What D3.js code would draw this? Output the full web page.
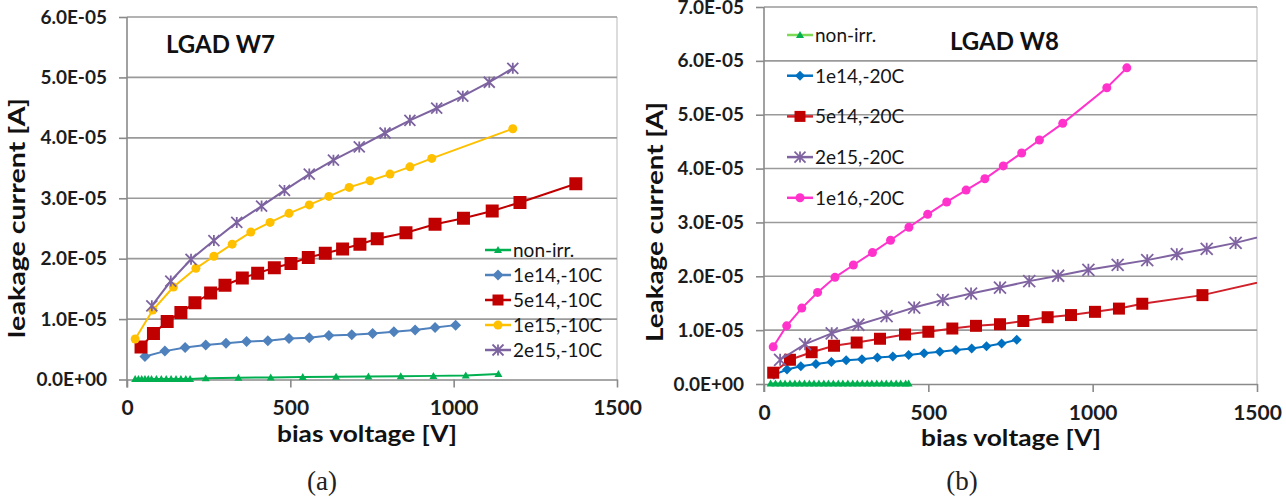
<!DOCTYPE html>
<html>
<head>
<meta charset="utf-8">
<script src="https://cdn.jsdelivr.net/npm/d3@7"></script>
<style>
  html, body { margin: 0; padding: 0; background: #fff; }
  svg { display: block; }
  text { font-family: Lato, "Open Sans", sans-serif; }
</style>
</head>
<body>
<svg id="chart" width="1286" height="502"></svg>
<script>
// ---------- data: leakage current [A] vs bias voltage [V] ----------
// LGAD W7, measured at -10C
const w7NonIrr = [[25,1e-7],[35,1e-7],[45,1e-7],[55,1e-7],[65,1e-7],[75,1e-7],[90,1e-7],[105,1e-7],[120,1e-7],[135,1e-7],[150,1e-7],[165,1e-7],[180,1e-7],[193,1e-7],
  [241,2e-7],[341,3e-7],[440,3.5e-7],[538,4e-7],[640,4.5e-7],[739,5e-7],[838,5.5e-7],[938,6e-7],[1037,6.5e-7],[1137,9e-7]];
const w7_1e14 = [[55,0.38e-5],[116,0.47e-5],[178,0.53e-5],[241,0.57e-5],[303,0.60e-5],[366,0.63e-5],[431,0.64e-5],[496,0.68e-5],[558,0.69e-5],[618,0.73e-5],
  [688,0.74e-5],[752,0.76e-5],[817,0.79e-5],[882,0.82e-5],[943,0.86e-5],[1006,0.90e-5]];
const w7_5e14 = [[43,0.54e-5],[81,0.76e-5],[123,0.96e-5],[165,1.11e-5],[208,1.27e-5],[256,1.43e-5],[300,1.56e-5],[353,1.68e-5],[400,1.76e-5],[451,1.85e-5],
  [502,1.92e-5],[555,2.02e-5],[607,2.09e-5],[660,2.16e-5],[713,2.24e-5],[766,2.33e-5],[854,2.43e-5],[943,2.57e-5],[1030,2.67e-5],[1118,2.79e-5],[1203,2.93e-5],[1374,3.24e-5]];
const w7_1e15 = [[25,0.67e-5],[79,1.15e-5],[142,1.53e-5],[211,1.84e-5],[266,2.04e-5],[322,2.24e-5],[379,2.44e-5],[438,2.60e-5],[496,2.75e-5],[558,2.89e-5],
  [618,3.03e-5],[680,3.18e-5],[744,3.29e-5],[805,3.40e-5],[866,3.52e-5],[933,3.66e-5],[1181,4.15e-5]];
const w7_2e15 = [[76,1.22e-5],[134,1.63e-5],[196,1.99e-5],[266,2.30e-5],[336,2.60e-5],[412,2.87e-5],[482,3.13e-5],[558,3.40e-5],[632,3.63e-5],[711,3.85e-5],
  [790,4.08e-5],[866,4.29e-5],[948,4.49e-5],[1028,4.69e-5],[1109,4.92e-5],[1181,5.15e-5]];

// LGAD W8, measured at -20C
const w8NonIrr = [[20,1e-7],[35,1e-7],[50,1e-7],[64,1e-7],[79,1e-7],[94,1e-7],[108,1e-7],[123,1e-7],[138,1e-7],[152,1e-7],[167,1e-7],[182,1e-7],[196,1e-7],[211,1e-7],
  [226,1e-7],[240,1e-7],[255,1e-7],[270,1e-7],[284,1e-7],[299,1e-7],[314,1e-7],[328,1e-7],[343,1e-7],[358,1e-7],[372,1e-7],[387,1e-7],[402,1e-7],[416,1e-7],[431,1e-7],[440,1e-7]];
const w8_1e14 = [[30,0.17e-5],[70,0.27e-5],[112,0.33e-5],[158,0.37e-5],[205,0.41e-5],[250,0.44e-5],[298,0.46e-5],[345,0.49e-5],[392,0.51e-5],[440,0.54e-5],
  [487,0.57e-5],[535,0.60e-5],[584,0.63e-5],[632,0.66e-5],[677,0.70e-5],[723,0.75e-5],[769,0.82e-5]];
const w8_5e14 = [[28,0.21e-5],[79,0.45e-5],[145,0.59e-5],[213,0.71e-5],[282,0.77e-5],[353,0.84e-5],[429,0.92e-5],[500,0.97e-5],[573,1.03e-5],[645,1.08e-5],
  [718,1.11e-5],[789,1.17e-5],[863,1.24e-5],[934,1.28e-5],[1007,1.34e-5],[1080,1.40e-5],[1151,1.49e-5],[1334,1.65e-5],[1530,1.92e-5]];
const w8_2e15 = [[49,0.45e-5],[125,0.74e-5],[206,0.94e-5],[287,1.10e-5],[373,1.26e-5],[457,1.42e-5],[544,1.56e-5],[630,1.68e-5],[718,1.79e-5],[807,1.91e-5],
  [895,2.01e-5],[987,2.12e-5],[1076,2.21e-5],[1166,2.30e-5],[1256,2.41e-5],[1347,2.51e-5],[1435,2.62e-5],[1525,2.76e-5]];
const w8_1e16 = [[28,0.69e-5],[69,1.08e-5],[115,1.41e-5],[163,1.70e-5],[216,1.98e-5],[272,2.21e-5],[330,2.44e-5],[385,2.67e-5],[441,2.91e-5],[498,3.15e-5],
  [556,3.38e-5],[615,3.60e-5],[672,3.81e-5],[728,4.05e-5],[784,4.29e-5],[838,4.53e-5],[909,4.84e-5],[1043,5.50e-5],[1104,5.87e-5]];

// axis ticks
const voltTicks = [0, 500, 1000, 1500];
const w7CurrentTicks = [0, 1e-5, 2e-5, 3e-5, 4e-5, 5e-5, 6e-5];
const w8CurrentTicks = [0, 1e-5, 2e-5, 3e-5, 4e-5, 5e-5, 6e-5, 7e-5];

// ---------- drawing ----------
const svg = d3.select("#chart");

// Excel-style scientific labels: 6.0E-05, 0.0E+00
function sci(d) {
  if (d === 0) return "0.0E+00";
  const e = Math.floor(Math.log10(Math.abs(d)) + 1e-9);
  const m = d / Math.pow(10, e);
  const sign = e < 0 ? "-" : "+";
  return m.toFixed(1) + "E" + sign + String(Math.abs(e)).padStart(2, "0");
}

// marker shapes
function markerPath(kind, s) {
  const h = s / 2;
  switch (kind) {
    case "triangle": return `M0,${-h}L${h},${h*0.75}L${-h},${h*0.75}Z`;
    case "diamond":  return `M0,${-h}L${h},0L0,${h}L${-h},0Z`;
    case "square":   return `M${-h},${-h}H${h}V${h}H${-h}Z`;
    case "circle":   return `M${h},0A${h},${h} 0 1,1 ${-h},0A${h},${h} 0 1,1 ${h},0Z`;
    case "star":     return `M${-h},${-h}L${h},${h}M${h},${-h}L${-h},${h}M0,${-h}V${h}`;
  }
}

function drawMarker(g, kind, size, color, x, y) {
  const p = g.append("path")
    .attr("transform", `translate(${x},${y})`)
    .attr("d", markerPath(kind, size));
  if (kind === "star") p.attr("fill", "none").attr("stroke", color).attr("stroke-width", 1.8);
  else p.attr("fill", color).attr("stroke", "none");
}

function drawPanel(cfg) {
  const g = svg.append("g");
  const x = d3.scaleLinear().domain([0, 1500]).range([cfg.left, cfg.right]);
  const y = d3.scaleLinear().domain([0, cfg.yMax]).range([cfg.bottom, cfg.top]);

  // plot frame (light) on the right side
  g.append("line").attr("x1", cfg.right).attr("x2", cfg.right)
    .attr("y1", cfg.top).attr("y2", cfg.bottom)
    .attr("stroke", "#d0d0d0").attr("stroke-width", 1.5);

  // horizontal gridlines
  g.append("g").selectAll("line").data(cfg.yTicks.slice(1)).join("line")
    .attr("x1", cfg.left).attr("x2", cfg.right)
    .attr("y1", d => y(d)).attr("y2", d => y(d))
    .attr("stroke", "#9a9a9a").attr("stroke-width", 1.6);

  // axes
  const yAxis = g.append("g").attr("transform", `translate(${cfg.left},0)`)
    .call(d3.axisLeft(y).tickValues(cfg.yTicks).tickFormat(sci).tickSize(8).tickPadding(12).tickSizeOuter(0));
  const xAxis = g.append("g").attr("transform", `translate(0,${cfg.bottom})`)
    .call(d3.axisBottom(x).tickValues(voltTicks).tickFormat(d3.format("d")).tickSize(8).tickPadding(13).tickSizeOuter(0));
  [yAxis, xAxis].forEach(a => {
    a.select(".domain").attr("stroke", "#8a8a8a").attr("stroke-width", 1.6);
    a.selectAll(".tick line").attr("stroke", "#8a8a8a").attr("stroke-width", 1.6);
    a.selectAll(".tick text").attr("fill", "#1c1c1c")
      .style("font-size", "19px").style("font-weight", "bold")
      .style("font-family", "Lato, sans-serif");
  });
  xAxis.selectAll(".tick text").style("font-size", "21px");
  // extend the y axis line down to the x-axis tick length
  yAxis.select(".domain").attr("d", `M0,${cfg.top}V${cfg.bottom + 8}`);

  // clip to the plot area
  const clipId = "clip-" + cfg.id;
  g.append("clipPath").attr("id", clipId).append("rect")
    .attr("x", cfg.left).attr("y", cfg.top - 10)
    .attr("width", cfg.right - cfg.left).attr("height", cfg.bottom - cfg.top + 20);
  const plot = g.append("g").attr("clip-path", `url(#${clipId})`);

  const line = d3.line().x(d => x(d[0])).y(d => y(d[1]));
  cfg.series.forEach(s => {
    plot.append("path").datum(s.data)
      .attr("d", line).attr("fill", "none")
      .attr("stroke", s.lineColor || s.color).attr("stroke-width", 2);
    s.data.forEach(d => {
      if (d[0] <= 1500) drawMarker(plot, s.marker, s.size, s.color, x(d[0]), y(d[1]));
    });
  });

  // legend
  cfg.series.forEach((s, i) => {
    const ly = cfg.legend.y0 + i * cfg.legend.dy;
    const lx = cfg.legend.x;
    g.append("line").attr("x1", lx).attr("x2", lx + 26).attr("y1", ly).attr("y2", ly)
      .attr("stroke", s.legendLine || s.lineColor || s.color).attr("stroke-width", 2.5);
    drawMarker(g, s.marker, Math.min(s.size, 11), s.color, lx + 13, ly);
    g.append("text").attr("x", lx + 28).attr("y", ly).attr("dy", "0.36em")
      .attr("fill", "#151515").style("font-size", "19px").text(s.name);
  });

  // titles
  g.append("text").attr("x", cfg.titleX).attr("y", cfg.titleY)
    .style("font-size", "24px").style("font-weight", "bold").attr("fill", "#111")
    .text(cfg.title);
  g.append("text").attr("x", cfg.xTitleX).attr("y", cfg.bottom + 62)
    .attr("text-anchor", "middle").style("font-size", "23px").style("font-weight", "bold").attr("fill", "#111")
    .attr("textLength", 180).attr("lengthAdjust", "spacingAndGlyphs")
    .text("bias voltage [V]");
  g.append("text")
    .attr("transform", `translate(${cfg.yTitleX},${cfg.yTitleY}) rotate(-90)`)
    .attr("text-anchor", "middle").style("font-size", "23px").style("font-weight", "bold").attr("fill", "#111")
    .attr("textLength", 240).attr("lengthAdjust", "spacingAndGlyphs")
    .text(cfg.yTitle);
  g.append("text").attr("x", cfg.captionX).attr("y", 490)
    .attr("text-anchor", "middle").style("font-family", "'Liberation Serif', 'DejaVu Serif', serif")
    .style("font-size", "27px").attr("fill", "#222").text(cfg.caption);
}

drawPanel({
  id: "w7", left: 127, right: 617, top: 17, bottom: 379.5, yMax: 6e-5, yTicks: w7CurrentTicks,
  title: "LGAD W7", titleX: 166, titleY: 53, xTitleX: 367,
  yTitle: "leakage current [A]", yTitleX: 25, yTitleY: 218,
  caption: "(a)", captionX: 322,
  legend: { x: 485, y0: 250, dy: 25 },
  series: [
    { name: "non-irr.", data: w7NonIrr, color: "#00b050", marker: "triangle", size: 8 },
    { name: "1e14,-10C", data: w7_1e14, color: "#4f81bd", marker: "diamond", size: 11 },
    { name: "5e14,-10C", data: w7_5e14, color: "#c00000", marker: "square", size: 13 },
    { name: "1e15,-10C", data: w7_1e15, color: "#ffc000", marker: "circle", size: 9 },
    { name: "2e15,-10C", data: w7_2e15, color: "#7d64a0", marker: "star", size: 11 }
  ]
});

drawPanel({
  id: "w8", left: 764, right: 1257, top: 7, bottom: 384, yMax: 7e-5, yTicks: w8CurrentTicks,
  title: "LGAD W8", titleX: 950, titleY: 50, xTitleX: 1011,
  yTitle: "Leakage current [A]", yTitleX: 663, yTitleY: 222,
  caption: "(b)", captionX: 962,
  legend: { x: 787, y0: 35, dy: 40.7 },
  series: [
    { name: "non-irr.", data: w8NonIrr, color: "#00b050", legendLine: "#7ed957", marker: "triangle", size: 8 },
    { name: "1e14,-20C", data: w8_1e14, color: "#0070c0", marker: "diamond", size: 10 },
    { name: "5e14,-20C", data: w8_5e14, color: "#c00000", lineColor: "#d0202a", marker: "square", size: 12 },
    { name: "2e15,-20C", data: w8_2e15, color: "#8064a2", marker: "star", size: 12 },
    { name: "1e16,-20C", data: w8_1e16, color: "#ff33cc", marker: "circle", size: 9 }
  ]
});
</script>
</body>
</html>
